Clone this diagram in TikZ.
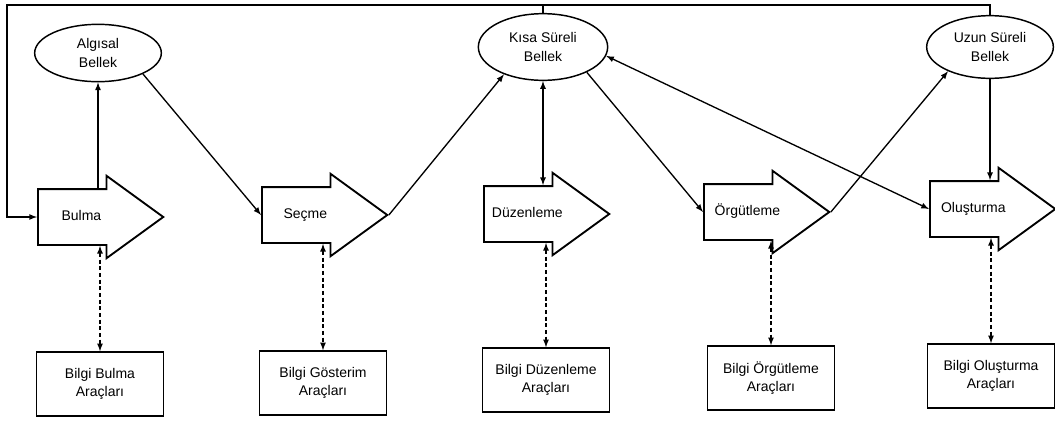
\documentclass[tikz,border=0pt]{standalone}
\usepackage{fontspec}
\setmainfont{Liberation Sans}
\usetikzlibrary{shapes.geometric, shapes.arrows}

\begin{document}
\begin{tikzpicture}[x=0.75pt, y=-0.75pt, >=latex, line width=1pt,
    every node/.style={font=\fontsize{10.5}{14}\selectfont},
    memory/.style={draw, ellipse, align=center, inner sep=0pt, minimum width=95pt, minimum height=47pt, line width=1.1pt},
    phase/.style={draw, single arrow, anchor=tail, single arrow head extend=10pt, single arrow tip angle=72,
      minimum height=94pt, inner xsep=18pt, inner ysep=15pt, text height=8pt, text depth=2.5pt, line width=1.4pt},
    tool/.style={draw, rectangle, align=center, minimum width=95pt, minimum height=48pt, line width=1.1pt},
    link/.style={<->, densely dashed}]
    \useasboundingbox (0, 0) rectangle (1055, 422);

    \node [memory, minimum height=43pt] (algisal) at (98, 53) {Algısal\\Bellek};
    \node [memory, minimum width=97pt, minimum height=50pt] (kisa) at (543, 47) {Kısa Süreli\\Bellek};
    \node [memory] (uzun) at (990, 47) {Uzun Süreli\\Bellek};

    \node [phase] (bulma) at (37, 217) {\makebox[0pt]{Bulma}};
    \node [phase] (secme) at (261, 215) {\makebox[0pt]{Seçme}};
    \node [phase] (duzenleme) at (483, 214) {\makebox[0pt]{Düzenleme}};
    \node [phase] (orgutleme) at (703, 212) {\makebox[0pt]{Örgütleme}};
    \node [phase] (olusturma) at (929, 209) {\makebox[0pt]{Oluşturma}};

    \node [tool] (bulmaarac) at (100, 384) {Bilgi Bulma\\Araçları};
    \node [tool] (gosterimarac) at (323, 383) {Bilgi Gösterim\\Araçları};
    \node [tool] (duzenlemearac) at (546, 380) {Bilgi Düzenleme\\Araçları};
    \node [tool] (orgutlemearac) at (771, 378) {Bilgi Örgütleme\\Araçları};
    \node [tool] (olusturmaarac) at (991, 376) {Bilgi Oluşturma\\Araçları};

    \coordinate (corner) at (7, 5);

    \draw [->] (algisal |- bulma.north) to (algisal);
    \draw [->] (algisal.-25) to (secme.tail);
    \draw [->] (secme.tip) to (kisa.-145);
    \draw [<->] (kisa) to (kisa |- duzenleme.north);
    \draw [->] (kisa.-30) to (orgutleme.tail);
    \draw [->] (orgutleme.tip) to (uzun.-150);
    \draw [<->] (kisa.-8) to (olusturma.tail);
    \draw [->] (uzun) to (uzun |- olusturma.north);
    \draw [->] (uzun.north) |- (corner) |- (bulma.tail);
    \draw (kisa.north) to (kisa.north |- corner);

    \foreach \p/\t in {bulma/bulmaarac, secme/gosterimarac, duzenleme/duzenlemearac,
        orgutleme/orgutlemearac, olusturma/olusturmaarac}
      \draw [link] (\t |- \p.south) to (\t);
  \end{tikzpicture}
\end{document}
